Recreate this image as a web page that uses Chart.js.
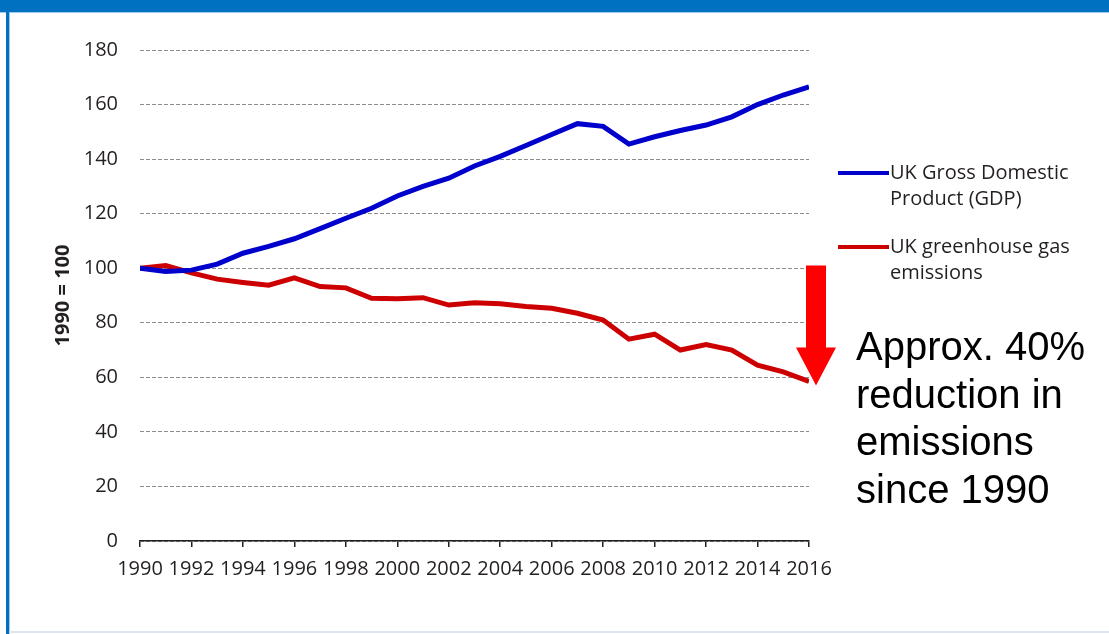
<!DOCTYPE html>
<html>
<head>
<meta charset="utf-8">
<script src="https://cdn.jsdelivr.net/npm/chart.js@4"></script>
<style>
  body { margin:0; background:#fff; }
  #wrap { position:relative; width:1109px; height:634px; overflow:hidden; background:#fff; }
  #topbar { position:absolute; left:0; top:0; width:1109px; height:12px; background:#0070c0; border-bottom:1px solid #9cc8ea; }
  #leftbar { position:absolute; left:6px; top:12px; width:3px; height:622px; background:#0070c0; border-right:1px solid #9cc8ea; }
  #bottombar { position:absolute; left:9px; top:631px; width:1100px; height:2px; background:#dfe4f2; }
  canvas { position:absolute; left:0; top:0; }
</style>
</head>
<body>
<div id="wrap">
  <div id="topbar"></div>
  <div id="leftbar"></div>
  <div id="bottombar"></div>
  <canvas id="grafico" width="1109" height="634"></canvas>
</div>
<script>
// dados (1990 = 100)
const anos = [1990,1991,1992,1993,1994,1995,1996,1997,1998,1999,2000,2001,2002,2003,2004,2005,2006,2007,2008,2009,2010,2011,2012,2013,2014,2015,2016];
const gdp = [100,98.8,99.3,101.5,105.5,108,110.8,114.5,118.3,122,126.5,130,133,137.5,141,145,149,153,152,145.5,148.2,150.5,152.5,155.5,160,163.5,166.5];
const emissoes = [100,101,98.3,96,94.8,93.8,96.5,93.3,92.8,89,88.8,89.2,86.5,87.3,87,86,85.3,83.5,81,74,75.8,70,72,70,64.5,62,58.5];
const legendas = [["UK Gross Domestic","Product (GDP)"],["UK greenhouse gas","emissions"]];
const nota = ["Approx. 40%","reduction in","emissions","since 1990"];
const setaTopo = 101, setaPonta = 57;

const fonte = "'Open Sans', sans-serif";

// legenda e seta desenhadas à mão
const extras = {
  id: "extras",
  afterDraw(chart){
    const c = chart.ctx, area = chart.chartArea, y = chart.scales.y;
    c.save();
    // legenda
    const legY = [173, 247];
    chart.data.datasets.forEach((ds, i) => {
      c.strokeStyle = ds.borderColor;
      c.lineWidth = 4;
      c.beginPath();
      c.moveTo(area.right + 29, legY[i]);
      c.lineTo(area.right + 80, legY[i]);
      c.stroke();
      c.fillStyle = "#231f20";
      c.font = "20px " + fonte;
      c.textBaseline = "middle";
      legendas[i].forEach((t, k) => c.fillText(t, area.right + 81, legY[i] + k * 26));
    });
    // seta vermelha
    const cx = area.right + 7;
    const top = y.getPixelForValue(setaTopo);
    const tip = y.getPixelForValue(setaPonta);
    const base = tip - 38;
    c.fillStyle = "#ff0000";
    c.beginPath();
    c.moveTo(cx - 10, top);
    c.lineTo(cx + 10, top);
    c.lineTo(cx + 10, base);
    c.lineTo(cx + 20, base);
    c.lineTo(cx, tip);
    c.lineTo(cx - 20, base);
    c.lineTo(cx - 10, base);
    c.closePath();
    c.fill();
    // texto
    c.fillStyle = "#000";
    c.font = "40px 'Liberation Sans', Arial, sans-serif";
    c.textBaseline = "alphabetic";
    nota.forEach((t, k) => c.fillText(t, area.right + 47, 360 + k * 47.7));
    c.restore();
  }
};

let ctx = document.getElementById("grafico").getContext("2d");
let grafico = new Chart(ctx, {
  type: "line",
  data: {
    datasets: [
      { label: legendas[0].join(" "), data: anos.map((a, i) => ({x: a, y: gdp[i]})),
        borderColor: "#0000cc", borderWidth: 5, pointRadius: 0, tension: 0, fill: false },
      { label: legendas[1].join(" "), data: anos.map((a, i) => ({x: a, y: emissoes[i]})),
        borderColor: "#cc0000", borderWidth: 5, pointRadius: 0, tension: 0, fill: false }
    ]
  },
  options: {
    responsive: false,
    animation: false,
    layout: { padding: { top: 50, right: 300, bottom: 0, left: 0 } },
    plugins: { legend: { display: false }, tooltip: { enabled: false } },
    scales: {
      x: {
        type: "linear", min: 1990, max: 2016,
        ticks: { stepSize: 2, color: "#231f20", font: { family: fonte, size: 20 }, padding: 10,
                 maxRotation: 0, callback: v => String(v) },
        grid: { drawOnChartArea: false, drawTicks: true, tickLength: 6, color: "#231f20", lineWidth: 1.5 },
        border: { display: true, color: "#231f20", width: 1.5 },
        afterFit: s => { s.height = 634 - 541; }
      },
      y: {
        min: 0, max: 180,
        ticks: { stepSize: 20, color: "#231f20", font: { family: fonte, size: 20 }, padding: 22 },
        grid: { drawTicks: false, color: "#8c8c8c", lineWidth: 1 },
        border: { display: false, dash: [4, 2] },
        title: { display: true, text: "1990 = 100", color: "#231f20",
                 font: { family: fonte, size: 20, weight: "bold" }, padding: { top: 51 } },
        afterFit: s => { s.width = 140; }
      }
    }
  },
  plugins: [extras]
});
</script>
</body>
</html>
